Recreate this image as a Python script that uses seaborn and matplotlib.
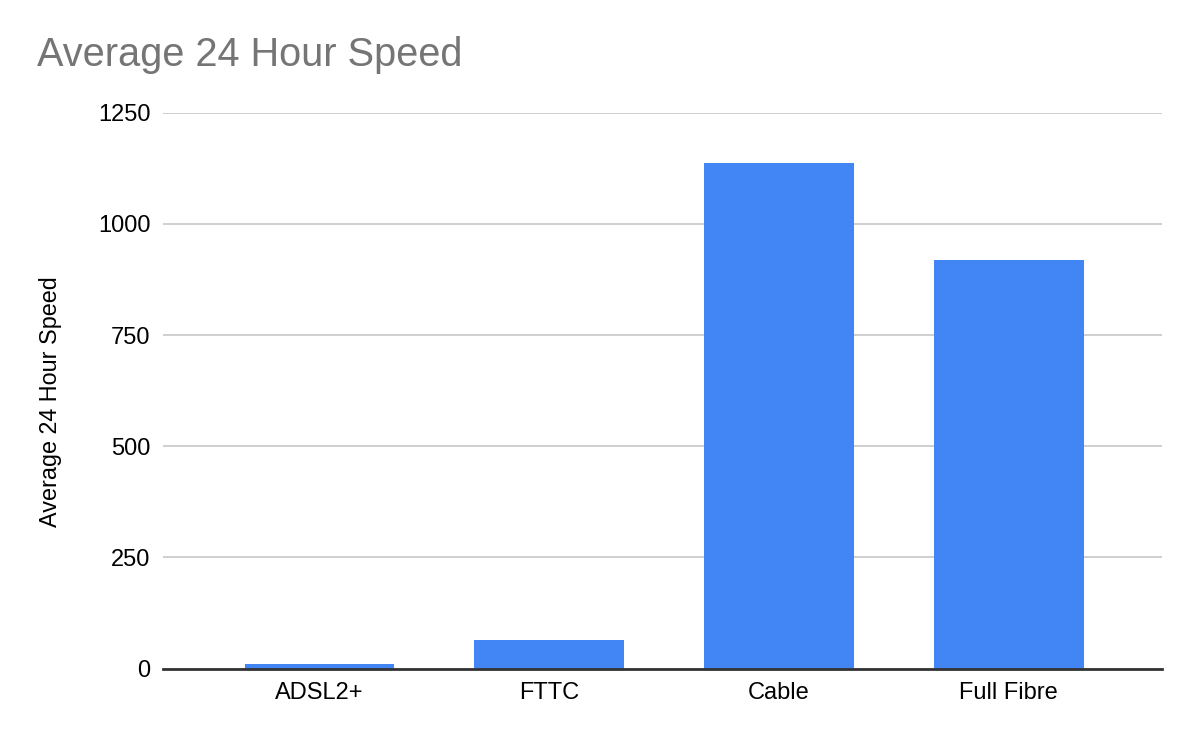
import matplotlib
matplotlib.use("Agg")
import matplotlib.pyplot as plt
import pandas as pd
import seaborn as sns

categories = ["ADSL2+", "FTTC", "Cable", "Full Fibre"]
speeds = [10, 65, 1137, 920]
yticks = [0, 250, 500, 750, 1000, 1250]

df = pd.DataFrame({"type": categories, "speed": speeds})

sns.set_style("white")
plt.rcParams["font.family"] = ["Liberation Sans", "DejaVu Sans"]

fig = plt.figure(figsize=(12, 7.42), dpi=100)
ax = fig.add_axes([0.136, 0.099, 0.832, 0.749])

sns.barplot(data=df, x="type", y="speed", color="#4285f4", saturation=1,
            width=0.652, linewidth=0, ax=ax)

ax.set_xlim(-0.68, 3.665)
ax.set_ylim(0, 1250)
ax.set_yticks(yticks)
ax.yaxis.grid(True, color="#cccccc", linewidth=1.3)
ax.set_axisbelow(True)
for s in ["top", "right", "left"]:
    ax.spines[s].set_visible(False)
ax.spines["bottom"].set_color("#333333")
ax.spines["bottom"].set_linewidth(2)
ax.tick_params(axis="both", length=0, labelsize=17, colors="#000000")
ax.tick_params(axis="y", pad=9)
ax.tick_params(axis="x", pad=10)
ax.set_xlabel("")
ax.set_ylabel("Average 24 Hour Speed", fontsize=16.8, color="#000000")
ax.yaxis.set_label_coords(-0.101, 0.48)

fig.text(0.031, 0.926, "Average 24 Hour Speed", fontsize=28.6, color="#757575",
         va="center", ha="left")

fig.savefig("out.png", dpi=100)
